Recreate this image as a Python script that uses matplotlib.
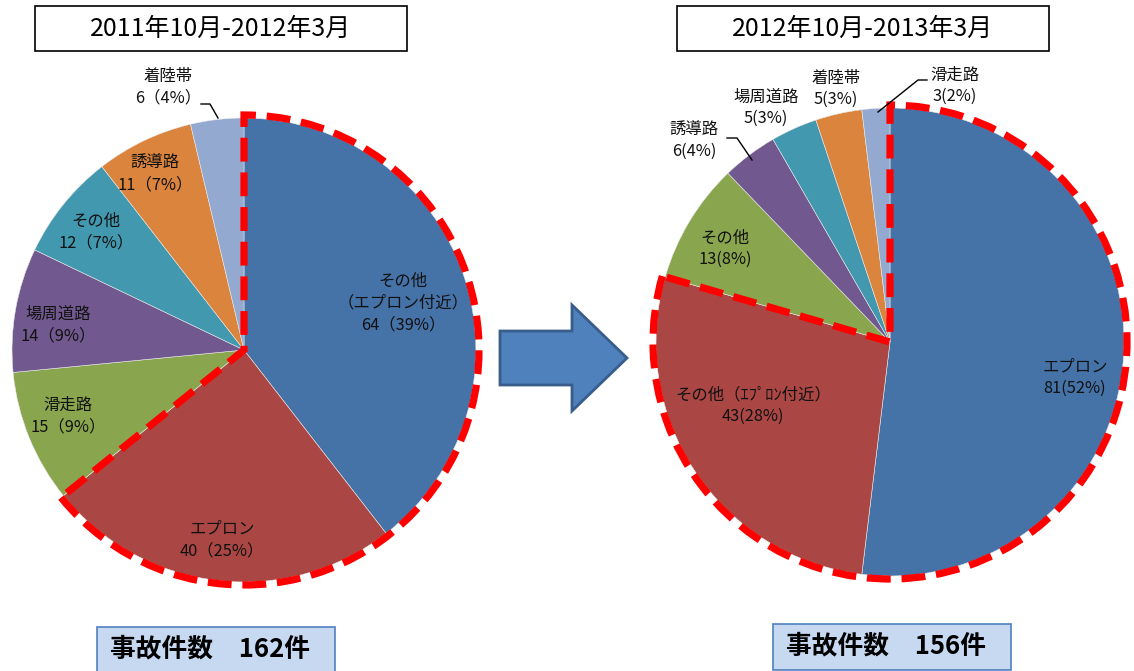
import matplotlib.pyplot as plt
from matplotlib.patches import Rectangle, Wedge, Polygon

plt.rcParams['font.family'] = ['Noto Sans CJK JP', 'DejaVu Sans']

# data
names_2011 = ["その他\n（エプロン付近）", "エプロン", "滑走路", "場周道路", "その他", "誘導路", "着陸帯"]
counts_2011 = [64, 40, 15, 14, 12, 11, 6]
pct_2011 = [39, 25, 9, 9, 7, 7, 4]

names_2012 = ["エプロン", "その他（ｴﾌﾟﾛﾝ付近）", "その他", "誘導路", "場周道路", "着陸帯", "滑走路"]
counts_2012 = [81, 43, 13, 6, 5, 5, 3]
pct_2012 = [52, 28, 8, 4, 3, 3, 2]

titles = ["2011年10月-2012年3月", "2012年10月-2013年3月"]
totals = [162, 156]

colors = ['#4572A7', '#AA4643', '#89A54E', '#71588F', '#4198AF', '#DB843D', '#93A9CF']

W, H = 1134, 671


def py(y):
    # pixel row -> data y (y axis points up)
    return H - y


fig = plt.figure(figsize=(W / 100, H / 100), dpi=100)
ax = fig.add_axes([0, 0, 1, 1])


def draw_pie(cx, cy, r, counts, n_outline):
    ax.pie(counts, colors=colors, startangle=90, counterclock=False,
           center=(cx, py(cy)), radius=r,
           wedgeprops=dict(edgecolor='#e8e8e8', linewidth=0.4))
    # red dashed outline around the first slices
    frac = sum(counts[:n_outline]) / sum(counts)
    w = Wedge((cx, py(cy)), r + 3, 90 - 360 * frac, 90, fill=False,
              edgecolor='#FF0000', linewidth=5.2,
              linestyle=(0, (3.3, 1.5)), zorder=5)
    ax.add_patch(w)


draw_pie(244, 350, 232, counts_2011, 2)
draw_pie(890, 342, 234, counts_2012, 2)

# slice labels
pos_2011 = [(403, 303), (222, 540), (68, 416), (58, 325), (96, 232), (155, 174), (168, 87)]
for name, n, p, (x, y) in zip(names_2011, counts_2011, pct_2011, pos_2011):
    ax.text(x, py(y), f"{name}\n{n}（{p}%）", ha='center', va='center',
            fontsize=11.8, linespacing=1.35, color='#111111', zorder=6)

pos_2012 = [(1075, 378), (753, 406), (725, 249), (694, 141), (766, 108), (836, 89), (955, 86)]
for name, n, p, (x, y) in zip(names_2012, counts_2012, pct_2012, pos_2012):
    ax.text(x, py(y), f"{name}\n{n}({p}%)", ha='center', va='center',
            fontsize=11.8, linespacing=1.35, color='#111111', zorder=6)

# leader lines
for xs, ys in [([201, 210, 218], [104, 104, 118]),
               ([727, 737, 752], [138, 138, 160]),
               ([927, 918, 878], [80, 80, 112])]:
    ax.plot(xs, [py(v) for v in ys], color='black', lw=1, zorder=6)

# title boxes
for x0, t in zip([35, 677], titles):
    ax.add_patch(Rectangle((x0, py(51)), 372, 45, facecolor='white',
                           edgecolor='black', lw=1.2))
    ax.text(x0 + 186, py(29), t, ha='center', va='center', fontsize=18)

# total boxes
for (x0, y0), t in zip([(97, 627), (773, 624)], totals):
    ax.add_patch(Rectangle((x0, py(y0 + 46)), 238, 46, facecolor='#C6D9F1',
                           edgecolor='#4F81BD', lw=1.2))
    ax.text(x0 + 13, py(y0 + 22), f"事故件数　{t}件", ha='left', va='center',
            fontsize=18.5, fontweight='bold')

# arrow between the two pies
arrow = [(500, 331), (572, 331), (572, 305), (627, 358),
         (572, 411), (572, 385), (500, 385)]
ax.add_patch(Polygon([(x, py(y)) for x, y in arrow], closed=True,
                     facecolor='#4F81BD', edgecolor='#385D8A', lw=2))

ax.set_xlim(0, W)
ax.set_ylim(0, H)
ax.set_aspect('auto')
ax.axis('off')

fig.savefig('out.png', dpi=100)
